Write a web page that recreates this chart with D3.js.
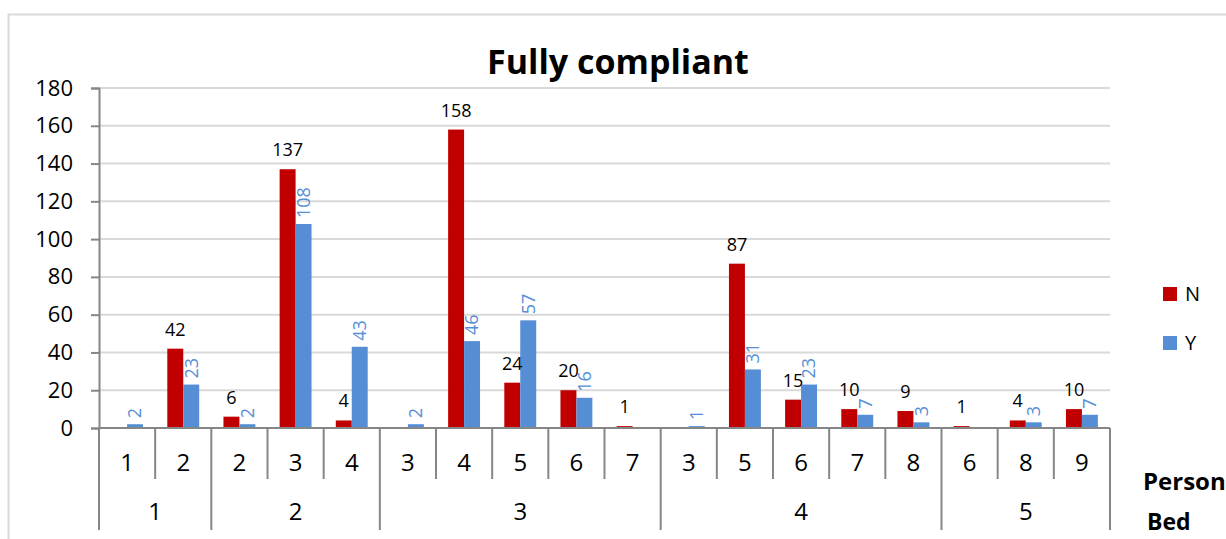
<!DOCTYPE html>
<html>
<head>
<meta charset="utf-8">
<script src="https://cdn.jsdelivr.net/npm/d3@7"></script>
<style>
  body { margin: 0; background: #fff; font-family: "Open Sans", sans-serif; }
</style>
</head>
<body>
<div id="chart"></div>
<script>
// Chart data
var beds    = ["1","1","2","2","2","3","3","3","3","3","4","4","4","4","4","5","5","5"];
var persons = ["1","2","2","3","4","3","4","5","6","7","3","5","6","7","8","6","8","9"];
var valuesN = [null, 42, 6, 137, 4, null, 158, 24, 20, 1, null, 87, 15, 10, 9, 1, 4, 10];
var valuesY = [2, 23, 2, 108, 43, 2, 46, 57, 16, null, 1, 31, 23, 7, 3, null, 3, 7];
var series  = ["N", "Y"];
var yTicks  = [0, 20, 40, 60, 80, 100, 120, 140, 160, 180];

var colors = { N: "#c00000", Y: "#558ed5" };

var svgWidth = 1226, svgHeight = 539;
var margin = { top: 88, left: 99, right: 116, bottom: 111 };
var width = svgWidth - margin.left - margin.right;
var height = svgHeight - margin.top - margin.bottom;

var svg = d3.select("#chart").append("svg")
    .attr("width", svgWidth)
    .attr("height", svgHeight);

// Outer chart border
svg.append("rect")
    .attr("x", 8.5).attr("y", 14.5)
    .attr("width", 1400).attr("height", 700)
    .attr("fill", "none")
    .attr("stroke", "#d9d9d9")
    .attr("stroke-width", 2);

// Title
svg.append("text")
    .attr("x", 618).attr("y", 74)
    .attr("text-anchor", "middle")
    .style("font-size", "34px")
    .style("font-weight", "bold")
    .text("Fully compliant");

var g = svg.append("g").attr("transform", `translate(${margin.left},${margin.top})`);

// Build rows
var rows = persons.map(function (p, i) {
  return { key: beds[i] + "-" + p + "-" + i, bed: beds[i], person: p, N: valuesN[i], Y: valuesY[i] };
});

var x0 = d3.scaleBand().domain(rows.map(d => d.key)).range([0, width]);
var x1 = d3.scaleBand().domain(series).range([0, x0.bandwidth()]).paddingOuter(0.76);
var y = d3.scaleLinear().domain([0, 180]).range([height, 0]);

// Gridlines
g.append("g").selectAll("line")
  .data(yTicks.filter(t => t > 0))
  .enter().append("line")
    .attr("x1", 0).attr("x2", width)
    .attr("y1", d => y(d)).attr("y2", d => y(d))
    .attr("stroke", "#d9d9d9")
    .attr("stroke-width", 2);

// Y axis
var leftAxis = d3.axisLeft(y).tickValues(yTicks).tickSize(8).tickPadding(18);
var yAxisG = g.append("g").call(leftAxis);
yAxisG.select(".domain").attr("stroke", "#868686").attr("stroke-width", 2);
yAxisG.selectAll(".tick line").attr("stroke", "#868686").attr("stroke-width", 2);
yAxisG.selectAll(".tick text")
    .style("font-size", "22px")
    .style("font-family", "Open Sans")
    .attr("fill", "#000");

// Bars
var groups = g.selectAll(".cat")
  .data(rows)
  .enter().append("g")
    .attr("transform", d => `translate(${x0(d.key)},0)`);

groups.selectAll("rect")
  .data(d => series.filter(s => d[s] != null).map(s => ({ s: s, v: d[s] })))
  .enter().append("rect")
    .attr("x", d => x1(d.s))
    .attr("width", x1.bandwidth())
    .attr("y", d => y(d.v))
    .attr("height", d => height - y(d.v))
    .attr("fill", d => colors[d.s]);

// N labels (horizontal, black)
groups.filter(d => d.N != null).append("text")
    .attr("x", x1("N") + x1.bandwidth() / 2)
    .attr("y", d => y(d.N) - 13)
    .attr("text-anchor", "middle")
    .style("font-size", "18px")
    .attr("fill", "#000")
    .text(d => d.N);

// Y labels (rotated, blue)
groups.filter(d => d.Y != null).append("text")
    .attr("transform", d => `translate(${x1("Y") + x1.bandwidth() / 2},${y(d.Y) - 6}) rotate(-90)`)
    .attr("dy", "0.35em")
    .attr("text-anchor", "start")
    .style("font-size", "18px")
    .attr("fill", colors.Y)
    .text(d => d.Y);

// X axis line
g.append("line")
    .attr("x1", 0).attr("x2", width)
    .attr("y1", height).attr("y2", height)
    .attr("stroke", "#868686").attr("stroke-width", 2);

// Category separators: short inside a bed, long at bed boundaries
var boundaries = d3.range(rows.length + 1).map(function (i) {
  var xPos = i < rows.length ? x0(rows[i].key) : width;
  var isBed = i === 0 || i === rows.length || rows[i].bed !== rows[i - 1].bed;
  return { x: xPos, bed: isBed };
});
g.append("g").selectAll("line")
  .data(boundaries)
  .enter().append("line")
    .attr("x1", d => d.x).attr("x2", d => d.x)
    .attr("y1", height)
    .attr("y2", d => d.bed ? height + 102 : height + 51)
    .attr("stroke", "#868686").attr("stroke-width", 2);

// Person labels
g.append("g").selectAll("text")
  .data(rows)
  .enter().append("text")
    .attr("x", d => x0(d.key) + x0.bandwidth() / 2)
    .attr("y", height + 43)
    .attr("text-anchor", "middle")
    .style("font-size", "24px")
    .text(d => d.person);

// Bed labels
var bedGroups = d3.groups(rows, d => d.bed).map(function (gr) {
  var first = gr[1][0], last = gr[1][gr[1].length - 1];
  return { bed: gr[0], x: (x0(first.key) + x0(last.key) + x0.bandwidth()) / 2 };
});
g.append("g").selectAll("text")
  .data(bedGroups)
  .enter().append("text")
    .attr("x", d => d.x)
    .attr("y", height + 92)
    .attr("text-anchor", "middle")
    .style("font-size", "24px")
    .text(d => d.bed);

// Axis level titles
svg.append("text")
    .attr("x", 1143).attr("y", 490)
    .style("font-size", "24px").style("font-weight", "bold")
    .text("Person");
svg.append("text")
    .attr("x", 1147).attr("y", 530)
    .style("font-size", "23px").style("font-weight", "bold")
    .text("Bed");

// Legend
var legend = svg.append("g").selectAll("g")
  .data(series)
  .enter().append("g")
    .attr("transform", (d, i) => `translate(1163,${287 + i * 49})`);
legend.append("rect")
    .attr("width", 14).attr("height", 14)
    .attr("fill", d => colors[d]);
legend.append("text")
    .attr("x", 22).attr("y", 14)
    .style("font-size", "20px")
    .text(d => d);
</script>
</body>
</html>
